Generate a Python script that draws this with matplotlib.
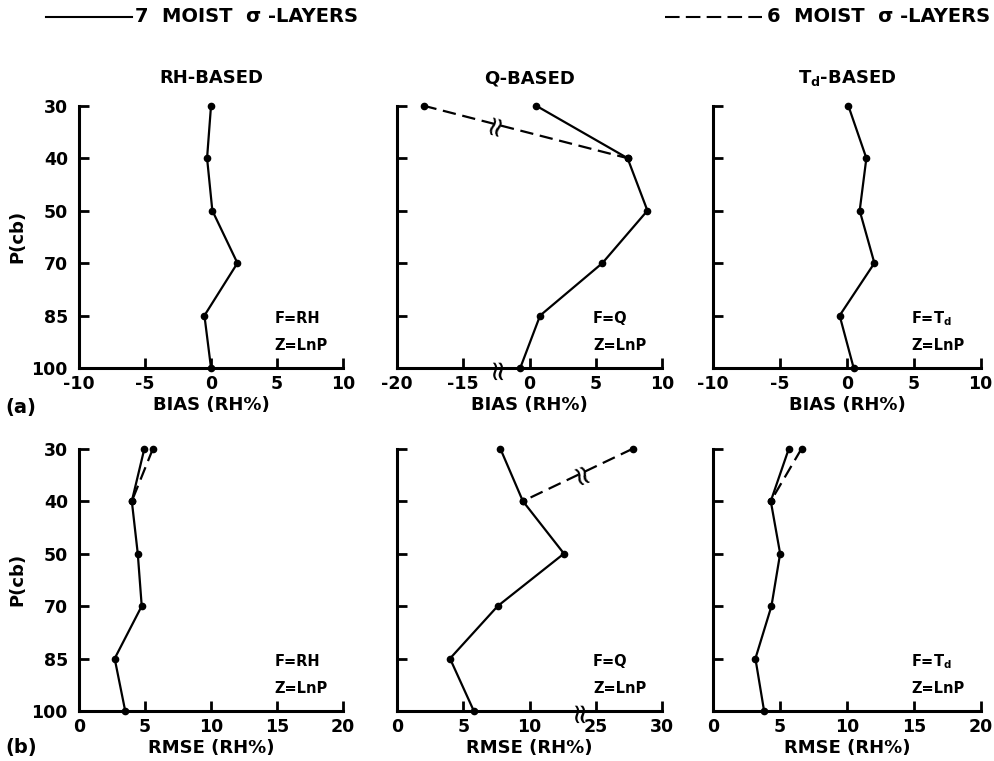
import numpy as np
import matplotlib
matplotlib.use("Agg")
import matplotlib.pyplot as plt
from matplotlib.lines import Line2D

plt.rcParams["font.family"] = ["DejaVu Sans"]

LEVELS = ["30", "40", "50", "70", "85", "100"]

# BIAS (RH%), 7 moist sigma-layers (solid)
bias_rh = [0.0, -0.3, 0.1, 2.0, -0.5, 0.0]
bias_q = [0.5, 7.4, 8.9, 5.5, 0.8, -0.7]
bias_td = [0.1, 1.45, 0.95, 2.05, -0.55, 0.5]
# 6 moist sigma-layers (dashed), only top two levels differ
bias_q6 = [-18.0, 7.4]

# RMSE (RH%)
rmse_rh = [4.95, 4.0, 4.45, 4.75, 2.7, 3.5]
rmse_q = [7.8, 9.5, 12.6, 7.6, 4.0, 5.8]
rmse_td = [5.65, 4.3, 5.0, 4.35, 3.15, 3.8]
rmse_rh6 = [5.6, 4.0]
rmse_q6 = [27.8, 9.5]
rmse_td6 = [6.6, 4.3]

bias_ticks = [-10, -5, 0, 5, 10]
bias_q_ticks = [-20, -15, 0, 5, 10]
rmse_ticks = [0, 5, 10, 15, 20]
rmse_q_ticks = [0, 5, 10, 25, 30]


# broken x axes for the Q-based panels (10 units cut out at the break)
def bq_fwd(x):
    x = np.asarray(x, dtype=float)
    return np.where(x <= -12.5, x + 10,
                    np.where(x < -2.45, -2.5 + (x + 12.5) * (0.05 / 10.05), x))


def bq_inv(x):
    x = np.asarray(x, dtype=float)
    return np.where(x <= -2.5, x - 10,
                    np.where(x < -2.45, -12.5 + (x + 2.5) * (10.05 / 0.05), x))


def rq_fwd(x):
    x = np.asarray(x, dtype=float)
    return np.where(x <= 13.7, x,
                    np.where(x < 23.75, 13.7 + (x - 13.7) * (0.05 / 10.05), x - 10))


def rq_inv(x):
    x = np.asarray(x, dtype=float)
    return np.where(x <= 13.7, x,
                    np.where(x < 13.75, 13.7 + (x - 13.7) * (10.05 / 0.05), x + 10))


fig = plt.figure(figsize=(9.94, 7.61), dpi=100)

lefts = [0.0795, 0.3994, 0.7176]
widths = [0.2656, 0.2666, 0.2690]
rows = [0.5164, 0.0657]
height = 0.3447

ypos = np.arange(len(LEVELS))
FS_TICK = 12.5
FS_LAB = 13


def style(ax, ticks, labels_y, xlim):
    ax.set_ylim(len(LEVELS) - 1, 0)
    ax.set_xlim(*xlim)
    ax.set_yticks(ypos)
    ax.set_xticks(ticks)
    ax.set_xticklabels([str(t) for t in ticks], fontsize=FS_TICK, fontweight="bold")
    if labels_y:
        ax.set_yticklabels(LEVELS, fontsize=FS_TICK, fontweight="bold")
    else:
        ax.set_yticklabels([])
    for s in ["top", "right"]:
        ax.spines[s].set_visible(False)
    for s in ["left", "bottom"]:
        ax.spines[s].set_linewidth(2.2)
    ax.tick_params(axis="both", direction="in", length=7, width=2.0)
    ax.tick_params(axis="y", pad=8)
    ax.tick_params(axis="x", pad=5)


def draw(ax, vals, vals6=None):
    ax.plot(vals, ypos, color="black", lw=1.6, marker="o", ms=4.5, clip_on=False)
    if vals6 is not None:
        ax.plot(vals6, ypos[:2], color="black", lw=1.6, ls=(0, (6, 3)),
                marker="o", ms=4.5, clip_on=False)


def note(ax, f):
    ax.text(0.74, 0.19, "F=" + f, transform=ax.transAxes, fontsize=10.5,
            fontweight="bold", va="center")
    ax.text(0.74, 0.085, "Z=LnP", transform=ax.transAxes, fontsize=10.5,
            fontweight="bold", va="center")


def brk(ax, x, y, rot):
    ax.text(x, y, "\u2248", rotation=rot, fontsize=20, ha="center",
            va="center", clip_on=False)


titles = ["RH-BASED", "Q-BASED", "T$_\\mathregular{d}$-BASED"]
fnames = ["RH", "Q", "T$_\\mathregular{d}$"]

# (a) bias row
axs_a = [fig.add_axes([lefts[i], rows[0], widths[i], height]) for i in range(3)]
draw(axs_a[0], bias_rh)
style(axs_a[0], bias_ticks, True, (-10, 10))
axs_a[1].set_xscale("function", functions=(bq_fwd, bq_inv))
draw(axs_a[1], bias_q, bias_q6)
style(axs_a[1], bias_q_ticks, False, (-20, 10))
draw(axs_a[2], bias_td)
style(axs_a[2], bias_ticks, False, (-10, 10))
brk(axs_a[1], -7.5, 5, 90)

# (b) rmse row
axs_b = [fig.add_axes([lefts[i], rows[1], widths[i], height]) for i in range(3)]
draw(axs_b[0], rmse_rh, rmse_rh6)
style(axs_b[0], rmse_ticks, True, (0, 20))
axs_b[1].set_xscale("function", functions=(rq_fwd, rq_inv))
draw(axs_b[1], rmse_q, rmse_q6)
style(axs_b[1], rmse_q_ticks, False, (0, 30))
draw(axs_b[2], rmse_td, rmse_td6)
style(axs_b[2], rmse_ticks, False, (0, 20))
brk(axs_b[1], 18.7, 5, 90)

# break marks on the dashed Q-based lines, placed in axes fractions
axs_a[1].text(0.37, 1 - 0.37 / 5, "\u2248", transform=axs_a[1].transAxes, rotation=75,
              fontsize=20, ha="center", va="center")
axs_b[1].text(0.69, 1 - 0.46 / 5, "\u2248", transform=axs_b[1].transAxes, rotation=110,
              fontsize=20, ha="center", va="center")

for i in range(3):
    axs_a[i].set_title(titles[i], fontsize=13, fontweight="bold", pad=16)
    note(axs_a[i], fnames[i])
    note(axs_b[i], fnames[i])
    axs_a[i].set_xlabel("BIAS (RH%)", fontsize=FS_LAB, fontweight="bold", labelpad=2)
    axs_b[i].set_xlabel("RMSE (RH%)", fontsize=FS_LAB, fontweight="bold", labelpad=2)

for ax in [axs_a[0], axs_b[0]]:
    ax.set_ylabel("P(cb)", fontsize=FS_LAB, fontweight="bold", labelpad=4)

fig.text(0.005, 1 - 408 / 761, "(a)", fontsize=FS_LAB + 1, fontweight="bold", va="center")
fig.text(0.005, 1 - 748 / 761, "(b)", fontsize=FS_LAB + 1, fontweight="bold", va="center")

# legend across the top
fig.add_artist(Line2D([46 / 994, 132 / 994], [1 - 17 / 761] * 2, color="black", lw=1.5))
fig.text(135 / 994, 1 - 17 / 761, "7  MOIST  \u03c3 -LAYERS", fontsize=14,
         fontweight="bold", va="center")
fig.add_artist(Line2D([665 / 994, 762 / 994], [1 - 17 / 761] * 2, color="black",
                      lw=1.5, ls=(0, (7, 3))))
fig.text(767 / 994, 1 - 17 / 761, "6  MOIST  \u03c3 -LAYERS", fontsize=14,
         fontweight="bold", va="center")

fig.savefig("out.png", dpi=100)
